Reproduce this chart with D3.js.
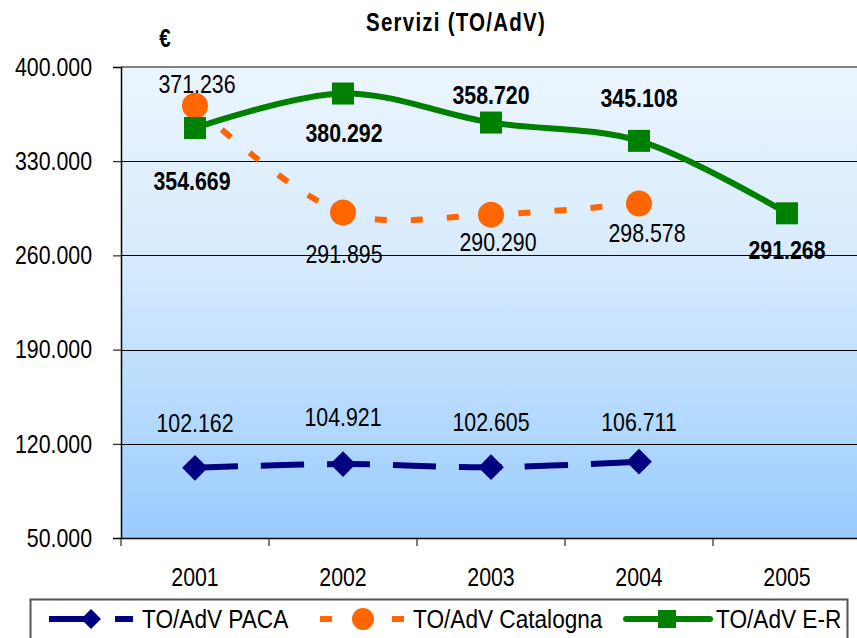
<!DOCTYPE html>
<html>
<head>
<meta charset="utf-8">
<script src="https://cdn.jsdelivr.net/npm/d3@7"></script>
<style>
  body { margin: 0; background: #fff; }
  svg { display: block; }
  text { font-family: "Liberation Sans", Arial, sans-serif; }
</style>
</head>
<body>
<div id="chart"></div>
<script>
// data
var years = ["2001", "2002", "2003", "2004", "2005"];
var paca = [102162, 104921, 102605, 106711];
var catalogna = [371236, 291895, 290290, 298578];
var emiliaRomagna = [354669, 380292, 358720, 345108, 291268];
var yTicks = [50000, 120000, 190000, 260000, 330000, 400000];
var seriesNames = ["TO/AdV PACA", "TO/AdV Catalogna", "TO/AdV E-R"];

// label nudges (px) relative to each marker
var pacaLabelDy = [-36, -38, -36, -31];
var catalognaLabelDy = [-13, 51, 36, 39];
var catalognaLabelDx = [2, 1, 7, 8];
var erLabelDy = [62, 48, -19, -34, 46];
var erLabelDx = [-3, 1, 0, 0, 0];

var W = 857, H = 638;
var margin = {top: 67, left: 121, bottom: 538, right: 861};
var FS = 26;          // main font size
var NARROW = 0.82;    // horizontal squeeze, the original uses a narrow face

var svg = d3.select("#chart").append("svg")
  .attr("width", W)
  .attr("height", H);

var fmt = d3.formatLocale({decimal: ",", thousands: ".", grouping: [3], currency: ["€", ""]}).format(",");

var x = d3.scaleBand().domain(years).range([margin.left, margin.right]);
var y = d3.scaleLinear().domain([50000, 400000]).range([margin.bottom, margin.top]);
function cx(i) { return x(years[i]) + x.bandwidth() / 2; }

// background gradient
var grad = svg.append("defs").append("linearGradient")
  .attr("id", "bg").attr("x1", 0).attr("y1", 0).attr("x2", 0).attr("y2", 1);
grad.append("stop").attr("offset", "0%").attr("stop-color", "#EBF5FE");
grad.append("stop").attr("offset", "40%").attr("stop-color", "#D8EBFD");
grad.append("stop").attr("offset", "100%").attr("stop-color", "#99CCFF");

svg.append("rect")
  .attr("x", margin.left).attr("y", margin.top)
  .attr("width", margin.right - margin.left)
  .attr("height", margin.bottom - margin.top)
  .attr("fill", "url(#bg)");

// gridlines
svg.append("g")
  .selectAll("line")
  .data(yTicks.slice(1, -1))
  .join("line")
  .attr("x1", margin.left).attr("x2", margin.right)
  .attr("y1", function(d) { return Math.round(y(d)) + 0.5; })
  .attr("y2", function(d) { return Math.round(y(d)) + 0.5; })
  .attr("stroke", "#000").attr("stroke-width", 1);

// top border
svg.append("line")
  .attr("x1", margin.left).attr("x2", margin.right)
  .attr("y1", y(400000)).attr("y2", y(400000))
  .attr("stroke", "#808080").attr("stroke-width", 2);

// y axis
var yAxis = svg.append("g")
  .attr("transform", "translate(" + margin.left + ",0)")
  .call(d3.axisLeft(y).tickValues(yTicks).tickFormat(fmt).tickSize(8).tickPadding(21));
yAxis.select(".domain").attr("stroke", "#000").attr("stroke-width", 1.5);
yAxis.selectAll(".tick line").attr("stroke", "#000");
yAxis.selectAll("text").attr("font-size", FS).attr("fill", "#000");

// x axis
var xAxis = svg.append("g")
  .attr("transform", "translate(0," + margin.bottom + ")")
  .call(d3.axisBottom(x).tickSize(0).tickPadding(30));
xAxis.select(".domain").attr("stroke", "#000").attr("stroke-width", 1.5);
xAxis.selectAll("text").attr("font-size", FS).attr("fill", "#000");
xAxis.append("g").selectAll("line")
  .data(years)
  .join("line")
  .attr("x1", function(d) { return x(d); })
  .attr("x2", function(d) { return x(d); })
  .attr("y1", 0).attr("y2", 8)
  .attr("stroke", "#000");

// title
svg.append("text")
  .attr("x", 456).attr("y", 31)
  .attr("text-anchor", "middle")
  .attr("font-size", 25).attr("font-weight", "bold")
  .attr("letter-spacing", 1.5)
  .text("Servizi (TO/AdV)");
svg.append("text")
  .attr("x", 165).attr("y", 47)
  .attr("text-anchor", "middle")
  .attr("font-size", 25).attr("font-weight", "bold")
  .text("€");

var line = d3.line()
  .x(function(d, i) { return cx(i); })
  .y(function(d) { return y(d); })
  .curve(d3.curveCatmullRom.alpha(0.5));

// PACA
svg.append("path")
  .attr("d", line(paca))
  .attr("fill", "none").attr("stroke", "#000080")
  .attr("stroke-width", 6).attr("stroke-dasharray", "43,23");
svg.append("g").selectAll("path")
  .data(paca)
  .join("path")
  .attr("transform", function(d, i) { return "translate(" + cx(i) + "," + y(d) + ") rotate(45)"; })
  .attr("d", d3.symbol().type(d3.symbolSquare).size(330))
  .attr("fill", "#000080");

// Catalogna
svg.append("path")
  .attr("d", line(catalogna))
  .attr("fill", "none").attr("stroke", "#FF6600")
  .attr("stroke-width", 6).attr("stroke-dasharray", "12,24");
svg.append("g").selectAll("circle")
  .data(catalogna)
  .join("circle")
  .attr("cx", function(d, i) { return cx(i); })
  .attr("cy", function(d) { return y(d); })
  .attr("r", 13)
  .attr("fill", "#FF6600");

// Emilia-Romagna
svg.append("path")
  .attr("d", line(emiliaRomagna))
  .attr("fill", "none").attr("stroke", "#008000")
  .attr("stroke-width", 6);
svg.append("g").selectAll("rect")
  .data(emiliaRomagna)
  .join("rect")
  .attr("x", function(d, i) { return cx(i) - 11; })
  .attr("y", function(d) { return y(d) - 11; })
  .attr("width", 22).attr("height", 22)
  .attr("fill", "#008000");

// data labels
function labels(values, dx, dy, bold) {
  svg.append("g").selectAll("text")
    .data(values)
    .join("text")
    .attr("x", function(d, i) { return cx(i) + (dx ? dx[i] : 0); })
    .attr("y", function(d, i) { return y(d) + dy[i]; })
    .attr("text-anchor", "middle")
    .attr("font-size", FS)
    .attr("font-weight", bold ? "bold" : "normal")
    .attr("fill", "#000")
    .text(fmt);
}
labels(paca, null, pacaLabelDy, false);
labels(catalogna, catalognaLabelDx, catalognaLabelDy, false);
labels(emiliaRomagna, erLabelDx, erLabelDy, true);

// legend
var legend = svg.append("g");
legend.append("rect")
  .attr("x", 30.5).attr("y", 599.5)
  .attr("width", 817).attr("height", 45)
  .attr("fill", "#fff").attr("stroke", "#555").attr("stroke-width", 2);

var ly = 619;
// PACA
legend.append("line")
  .attr("x1", 49).attr("x2", 133).attr("y1", ly).attr("y2", ly)
  .attr("stroke", "#000080").attr("stroke-width", 6).attr("stroke-dasharray", "43,23");
legend.append("path")
  .attr("transform", "translate(91," + ly + ") rotate(45)")
  .attr("d", d3.symbol().type(d3.symbolSquare).size(200))
  .attr("fill", "#000080");
// Catalogna
legend.append("line")
  .attr("x1", 320).attr("x2", 405).attr("y1", ly).attr("y2", ly)
  .attr("stroke", "#FF6600").attr("stroke-width", 6).attr("stroke-dasharray", "12,24");
legend.append("circle").attr("cx", 363).attr("cy", ly).attr("r", 11).attr("fill", "#FF6600");
// E-R
legend.append("line")
  .attr("x1", 626).attr("x2", 710).attr("y1", ly).attr("y2", ly)
  .attr("stroke", "#008000").attr("stroke-width", 6).attr("stroke-linecap", "round");
legend.append("rect").attr("x", 658).attr("y", ly - 9).attr("width", 18).attr("height", 18).attr("fill", "#008000");

// squeeze every text horizontally to mimic the narrow face
svg.selectAll("text").each(function() {
  var len = this.getComputedTextLength();
  d3.select(this)
    .attr("textLength", len * NARROW)
    .attr("lengthAdjust", "spacingAndGlyphs");
});

// legend labels are a touch wider in the original
legend.selectAll("text.lbl")
  .data(seriesNames)
  .join("text")
  .attr("class", "lbl")
  .attr("x", function(d, i) { return [142, 413, 716][i]; })
  .attr("y", 628)
  .attr("font-size", FS)
  .text(function(d) { return d; })
  .each(function() {
    var len = this.getComputedTextLength();
    d3.select(this)
      .attr("textLength", len * 0.87)
      .attr("lengthAdjust", "spacingAndGlyphs");
  });
</script>
</body>
</html>
